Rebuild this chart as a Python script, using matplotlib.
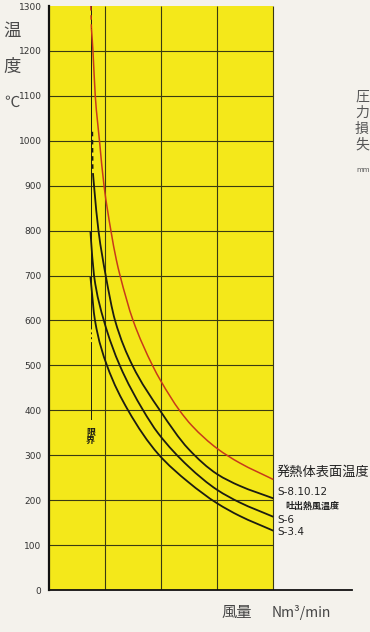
import matplotlib
matplotlib.use("Agg")
import matplotlib.pyplot as plt
from matplotlib.path import Path
from matplotlib.patches import PathPatch

# (x in grid columns, temperature in deg C)
temp_ticks = list(range(0, 1400, 100))
limit_x = 0.75

red_u = [0.764, 0.791, 0.832, 0.907, 0.988, 1.11, 1.207, 1.273, 1.505, 1.85, 2.0, 2.33, 2.55, 3.0, 3.4, 4.0]
red_t = [1250, 1200, 1100, 1000, 900, 800, 735, 700, 600, 500, 465, 400, 366, 315, 283, 246]

top_u = [0.791, 0.81, 0.889, 1.018, 1.184, 1.493, 1.982, 2.49, 3.0, 3.4, 4.0]
top_t = [928, 900, 800, 700, 600, 500, 400, 314, 258, 232, 204]

mid_u = [0.746, 0.81, 0.985, 1.268, 1.684, 1.95, 2.49, 3.0, 3.4, 4.0]
mid_t = [798, 700, 600, 500, 400, 349, 275, 223, 195, 163]

low_u = [0.746, 0.827, 1.04, 1.416, 1.95, 2.49, 3.0, 3.4, 4.0]
low_t = [697, 600, 500, 400, 303, 240, 193, 165, 132]

YELLOW = "#f4e81a"
GRID = "#3a3a12"
RED = "#c83a1a"
INK = "#1c1c12"
JP = ["Noto Sans CJK JP", "DejaVu Sans"]


def curve_path(u, t):
    # monotone cubic (Fritsch-Carlson) drawn as bezier segments through the read points
    n = len(u)
    h = [u[k + 1] - u[k] for k in range(n - 1)]
    d = [(t[k + 1] - t[k]) / h[k] for k in range(n - 1)]
    m = [d[0]] + [0.0] * (n - 2) + [d[-1]]
    for k in range(1, n - 1):
        if d[k - 1] * d[k] > 0:
            w1 = 2 * h[k] + h[k - 1]
            w2 = h[k] + 2 * h[k - 1]
            m[k] = (w1 + w2) / (w1 / d[k - 1] + w2 / d[k])
    verts = [(u[0], t[0])]
    codes = [Path.MOVETO]
    for k in range(n - 1):
        verts += [(u[k] + h[k] / 3, t[k] + m[k] * h[k] / 3),
                  (u[k + 1] - h[k] / 3, t[k + 1] - m[k + 1] * h[k] / 3),
                  (u[k + 1], t[k + 1])]
        codes += [Path.CURVE4] * 3
    return Path(verts, codes)


W, H = 370, 632
fig = plt.figure(figsize=(W / 100, H / 100), dpi=100, facecolor="#f4f2ec")
ax = fig.add_axes([48.5 / W, 42 / H, (352 - 48.5) / W, 584 / H])
ax.set_facecolor("none")
ax.set_xlim(0, 5.4)
ax.set_ylim(0, 1300)

ax.axvspan(0, 4, color=YELLOW, lw=0, zorder=0)
ax.vlines([1, 2, 3, 4], 0, 1300, color=GRID, lw=0.8, zorder=1)
ax.hlines(temp_ticks[1:-1], 0, 4, color=GRID, lw=0.8, zorder=1)

# limit line
ax.plot([limit_x, limit_x], [1300, 585], color=INK, lw=0.7, zorder=2)
ax.plot([limit_x, limit_x], [585, 550], color=INK, lw=0.7, ls=(0, (2, 3)), zorder=2)
ax.plot([limit_x, limit_x], [550, 380], color=INK, lw=0.7, zorder=2)
ax.text(limit_x, 342, "限\n界", family=JP, fontsize=6.5, fontweight="bold",
        color=INK, ha="center", va="center", linespacing=0.95)

# curves
ax.plot([0.752, red_u[0]], [1300, red_t[0]], color=RED, lw=1.1, ls=(0, (3, 3)), zorder=3)
ax.add_patch(PathPatch(curve_path(red_u, red_t), fill=False, ec=RED, lw=1.1, zorder=3))
ax.plot([0.779, 0.785], [1020, 935], color=INK, lw=1.3, ls=(0, (2.5, 2)), zorder=3)
for u, t in [(top_u, top_t), (mid_u, mid_t), (low_u, low_t)]:
    ax.add_patch(PathPatch(curve_path(u, t), fill=False, ec=INK, lw=1.3, zorder=3))

for s in ["top", "right"]:
    ax.spines[s].set_visible(False)
ax.spines["left"].set_linewidth(1.6)
ax.spines["bottom"].set_linewidth(1.3)
ax.spines["left"].set_color("#111")
ax.spines["bottom"].set_color("#111")
ax.set_xticks([])
ax.set_yticks(temp_ticks)
ax.tick_params(axis="y", length=0, pad=5, labelsize=6.5, labelcolor="#333")


def ft(x, y, s, **kw):
    fig.text(x / W, 1 - y / H, s, **kw)


# axis titles
for y, s, fs in [(31, "温", 12.5), (67, "度", 12.5), (102, "℃", 11)]:
    ft(12, y, s, family=JP, fontsize=fs, color="#4a4a4a", ha="center", va="center")
ft(221, 612, "風量", family=JP, fontsize=11, color="#444", va="center")
ft(272, 612, "Nm³/min", family=JP, fontsize=10, color="#444", va="center")

# curve labels
ft(277, 472, "発熱体表面温度", family=JP, fontsize=9.5, color="#222", va="center")
ft(277, 492, "S-8.10.12", fontsize=7.5, color="#222", va="center")
ft(285, 506, "吐出熱風温度", family=JP, fontsize=6.5, fontweight="bold", color="#222", va="center")
ft(277, 520, "S-6", fontsize=7.5, color="#222", va="center")
ft(277, 532, "S-3.4", fontsize=7.5, color="#222", va="center")

# text at the right edge of the scan
for y, s in [(97, "圧"), (113, "力"), (129, "損"), (145, "失")]:
    ft(355, y, s, family=JP, fontsize=10, color="#555", va="center")
ft(356, 170, "mm", fontsize=5, color="#555", va="center")

fig.savefig("out.png", dpi=100, facecolor=fig.get_facecolor())
